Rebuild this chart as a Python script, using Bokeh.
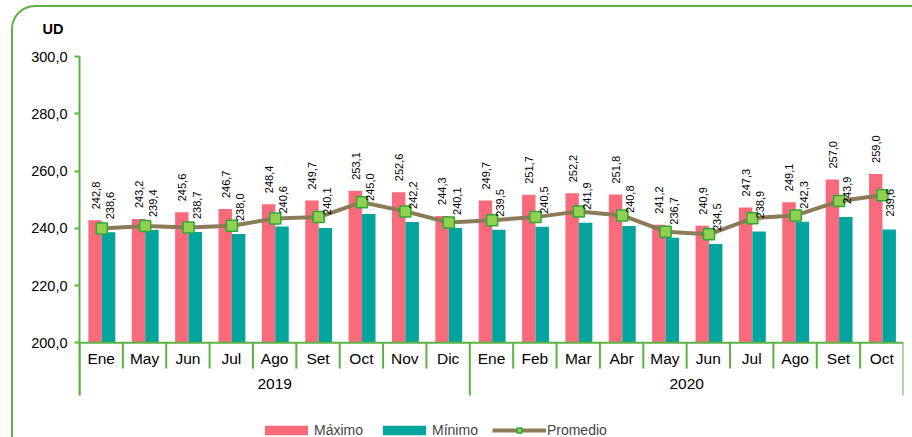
import numpy as np
from bokeh.plotting import figure
from bokeh.models import (Range1d, FixedTicker, Span, ColumnDataSource, Legend,
                          LegendItem, InlineStyleSheet)
from bokeh.transform import dodge
from bokeh.core.properties import value
from bokeh.embed import file_html
from bokeh.resources import INLINE

# ---------------- data ----------------
years = ["2019", "2020"]
months_2019 = ["Ene", "May", "Jun", "Jul", "Ago", "Set", "Oct", "Nov", "Dic"]
months_2020 = ["Ene", "Feb", "Mar", "Abr", "May", "Jun", "Jul", "Ago", "Set", "Oct"]
maximo = [242.8, 243.2, 245.6, 246.7, 248.4, 249.7, 253.1, 252.6, 244.3,
          249.7, 251.7, 252.2, 251.8, 241.2, 240.9, 247.3, 249.1, 257.0, 259.0]
minimo = [238.6, 239.4, 238.7, 238.0, 240.6, 240.1, 245.0, 242.2, 240.1,
          239.5, 240.5, 241.9, 240.8, 236.7, 234.5, 238.9, 242.3, 243.9, 239.6]
promedio = [239.9, 240.8, 240.3, 240.9, 243.4, 243.9, 249.1, 245.9, 242.0,
            242.8, 243.9, 245.9, 244.5, 238.8, 237.9, 243.5, 244.5, 249.5, 251.5]
y_ticks = [200, 220, 240, 260, 280, 300]
unit_label = "UD"

# ---------------- styles ----------------
PINK = "#F96B7A"
TEAL = "#02A59E"
BROWN = "#8C7B57"
MARK_FILL = "#92D050"
MARK_LINE = "#2FA83A"
GREEN = "#5DB246"
FONT = "Liberation Sans"


def fmt(v):
    return f"{v:.1f}".replace(".", ",")


months = months_2019 + months_2020
year_sizes = [len(months_2019), len(months_2020)]
n = len(months)
idx = np.arange(n)

src = ColumnDataSource(dict(
    xc=idx + 0.5,
    month=months,
    maximo=maximo,
    minimo=minimo,
    promedio=promedio,
    lab_max=[fmt(v) for v in maximo],
    lab_min=[fmt(v) for v in minimo],
))

p = figure(width=912, height=437, x_range=Range1d(0, n), y_range=Range1d(166.92, 300),
           output_backend="svg", toolbar_location=None, x_axis_type=None,
           min_border_left=79, min_border_right=9, min_border_top=56, min_border_bottom=0)
p.outline_line_color = None
p.grid.visible = False
p.background_fill_color = "white"
p.border_fill_color = "white"

# rounded chart border (pure CSS decoration on the plot element)
p.stylesheets = [InlineStyleSheet(css=(
    ":host{position:relative;}"
    ":host::after{content:'';position:absolute;left:11px;top:5px;right:0px;bottom:0px;"
    f"border:2px solid {GREEN};border-bottom:none;border-right:none;"
    "border-radius:24px 0 0 0;pointer-events:none;box-sizing:border-box;}"
))]

# unit label as title
p.title.text = unit_label
p.title.align = "left"
p.title.vertical_align = "top"
p.title.offset = -37
p.title.standoff = 36
p.title.text_font = FONT
p.title.text_font_size = "14.5px"
p.title.text_font_style = "bold"
p.title.text_color = "#000000"

# y axis
ya = p.yaxis[0]
ya.ticker = FixedTicker(ticks=y_ticks, minor_ticks=[])
ya.major_label_overrides = {v: fmt(v) for v in y_ticks}
ya.bounds = (181.6, 300)
ya.axis_line_color = GREEN
ya.axis_line_width = 2
ya.major_tick_line_color = GREEN
ya.major_tick_line_width = 2
ya.major_tick_out = 5
ya.major_tick_in = 0
ya.minor_tick_line_color = None
ya.major_label_standoff = 7
ya.major_label_text_font = FONT
ya.major_label_text_font_size = "14.5px"
ya.major_label_text_color = "#000000"

# x axis baseline
p.add_layout(Span(location=y_ticks[0], dimension="width", line_color=GREEN, line_width=2))

# bars
r_max = p.vbar(x=dodge("xc", -0.14, range=p.x_range), top="maximo", bottom=y_ticks[0], width=0.31,
               fill_color=PINK, line_color=None, source=src)
r_min = p.vbar(x=dodge("xc", 0.17, range=p.x_range), top="minimo", bottom=y_ticks[0], width=0.31,
               fill_color=TEAL, line_color=None, source=src)

# average line
r_line = p.line(x=dodge("xc", 0.015, range=p.x_range), y="promedio", line_color=BROWN,
                line_width=4, source=src)
r_pts = p.scatter(x=dodge("xc", 0.015, range=p.x_range), y="promedio", marker="square", size=11,
                  fill_color=MARK_FILL, line_color=MARK_LINE, line_width=1.5, source=src)

# value labels (rotated)
p.text(x=dodge("xc", -0.13, range=p.x_range), y="maximo", text="lab_max", angle=np.pi / 2,
       text_align="left", text_baseline="middle", y_offset=-11,
       text_font=value(FONT), text_font_size="11px", text_color="#000000", source=src)
p.text(x=dodge("xc", 0.2, range=p.x_range), y="minimo", text="lab_min", angle=np.pi / 2,
       text_align="left", text_baseline="middle", y_offset=-13,
       text_font=value(FONT), text_font_size="11px", text_color="#000000", source=src)

# category axis: month labels, year labels, separators
p.text(x="xc", y=194.5, text="month", text_align="center", text_baseline="middle",
       text_font=value(FONT), text_font_size="15.5px", text_color="#000000", source=src)

starts = np.cumsum([0] + year_sizes[:-1])
year_src = ColumnDataSource(dict(x=starts + np.array(year_sizes) / 2, year=years))
p.text(x="x", y=185.7, text="year", text_align="center", text_baseline="middle",
       text_font=value(FONT), text_font_size="15.5px", text_color="#000000", source=year_src)

bounds_all = np.arange(n + 1)
year_bounds = set(list(starts) + [n])
sep_src = ColumnDataSource(dict(
    x=bounds_all,
    yend=[181.6 if b in year_bounds else 191.0 for b in bounds_all],
))
p.segment(x0="x", y0=y_ticks[0], x1="x", y1="yend", line_color=GREEN, line_width=2, source=sep_src)

# legend
legend = Legend(items=[LegendItem(label="Máximo", renderers=[r_max]),
                       LegendItem(label="Mínimo", renderers=[r_min]),
                       LegendItem(label="Promedio", renderers=[r_line, r_pts])],
                orientation="horizontal", location=(180, -1), glyph_width=54, glyph_height=12,
                label_standoff=1, spacing=14, padding=0, margin=0, border_line_color=None,
                background_fill_alpha=0, label_text_font=FONT, label_text_font_size="14px",
                label_height=12, label_width=10)
p.add_layout(legend)

open("out.html", "w").write(file_html(p, INLINE))
